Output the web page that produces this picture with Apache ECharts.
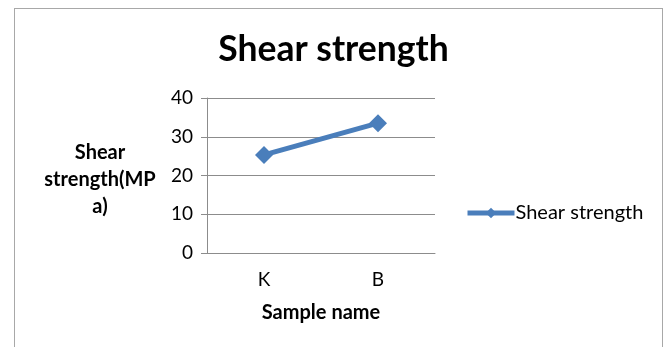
<!DOCTYPE html>
<html>
<head>
<meta charset="utf-8">
<script src="https://cdn.jsdelivr.net/npm/echarts@6/dist/echarts.min.js"></script>
<style>
  html, body { margin: 0; padding: 0; background: #fff; overflow: hidden; }
  #chart { width: 667px; height: 347px; }
  .frame {
    position: absolute; left: 14px; top: 8px; width: 647px; height: 350px;
    border: 1px solid #a8a8a8; pointer-events: none;
  }
</style>
</head>
<body>
<div id="chart"></div>
<div class="frame"></div>
<script>
// 样本名称
const categories = ['K', 'B']
// 剪切强度 (MPa)
const shearValues = [25.3, 33.5]
const yTicks = [0, 10, 20, 30, 40]

const font = 'Lato, "Open Sans", sans-serif'
const lineColor = '#4a7ebb'
const gridColor = '#8c8c8c'

const chart = echarts.init(document.getElementById('chart'))

const option = {
  animation: false,
  title: {
    text: 'Shear strength',
    left: 'center',
    top: 27,
    textStyle: { fontFamily: font, fontSize: 35.5, fontWeight: 'bold', color: '#000' },
  },
  legend: {
    data: ['Shear strength'],
    left: 465,
    top: 203,
    padding: 0,
    itemWidth: 47,
    itemHeight: 13,
    itemGap: 0,
    lineStyle: { width: 5, color: lineColor },
    textStyle: { fontFamily: font, fontSize: 20, color: '#000', padding: [0, 0, 0, -4] },
  },
  grid: { left: 207, right: 232, top: 98, bottom: 94, containLabel: false },
  xAxis: {
    type: 'category',
    data: categories,
    boundaryGap: true,
    name: 'Sample name',
    nameLocation: 'middle',
    nameGap: 50,
    nameTextStyle: { fontFamily: font, fontSize: 20, fontWeight: 'bold', color: '#000' },
    axisLine: { lineStyle: { color: gridColor } },
    axisTick: { length: 9, lineStyle: { color: gridColor } },
    axisLabel: { fontFamily: font, fontSize: 19, color: '#000', margin: 17 },
  },
  yAxis: {
    type: 'value',
    min: yTicks[0],
    max: yTicks[yTicks.length - 1],
    interval: 10,
    // 顶部加一个空白行，让三行文字略微下移
    name: '{gap|}\nShear\nstrength(MP\na)',
    nameLocation: 'middle',
    nameRotate: 0,
    nameGap: 107,
    nameTextStyle: {
      fontFamily: font, fontSize: 20, fontWeight: 'bold', color: '#000',
      align: 'center', lineHeight: 27,
      rich: { gap: { height: 9, lineHeight: 9, fontSize: 1 } },
    },
    axisLine: { show: true, lineStyle: { color: gridColor } },
    axisTick: { show: true, length: 6, lineStyle: { color: gridColor } },
    axisLabel: { fontFamily: font, fontSize: 19, color: '#000', margin: 14 },
    splitLine: { lineStyle: { color: gridColor } },
  },
  series: [
    {
      name: 'Shear strength',
      type: 'line',
      data: shearValues,
      symbol: 'diamond',
      symbolSize: 18,
      lineStyle: { color: lineColor, width: 5 },
      itemStyle: { color: lineColor },
    },
  ],
}

chart.setOption(option)
</script>
</body>
</html>
